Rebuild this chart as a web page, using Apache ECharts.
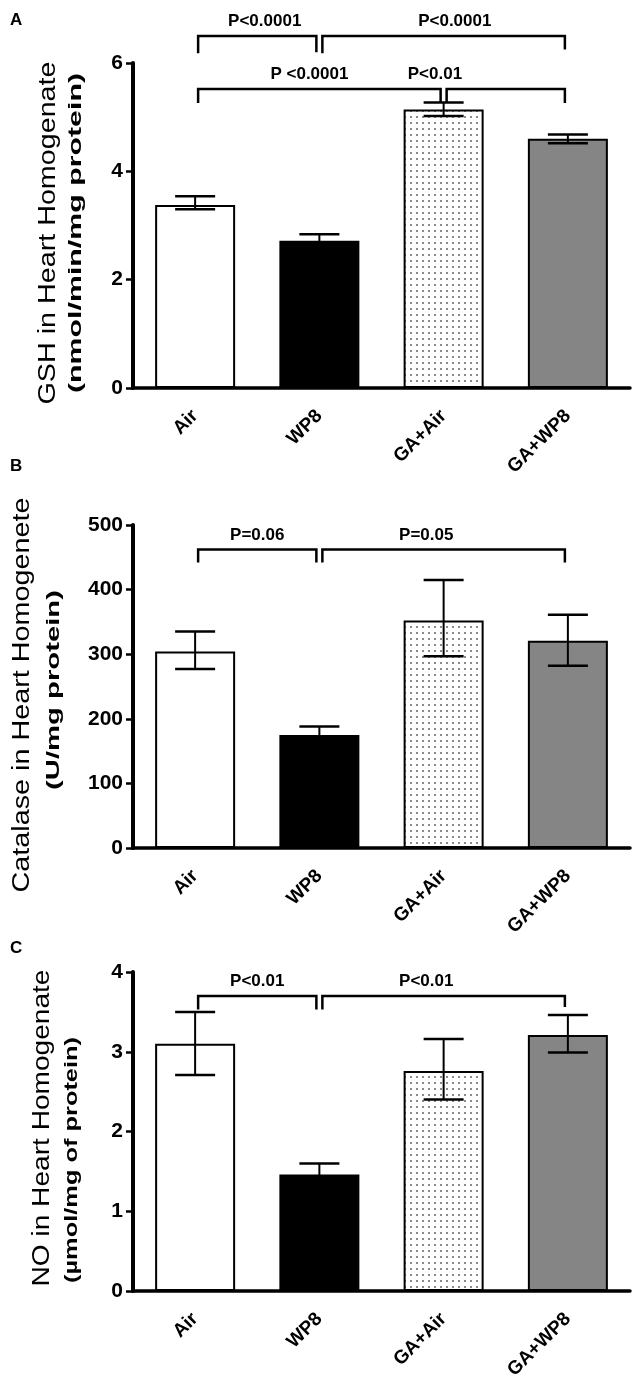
<!DOCTYPE html>
<html><head><meta charset="utf-8">
<script src="https://cdn.jsdelivr.net/npm/echarts@6/dist/echarts.min.js"></script>
<style>html,body{margin:0;padding:0;background:#fff}#c{width:633px;height:1390px}</style>
</head><body><div id="c"></div>
<script>
const categories = ['Air', 'WP8', 'GA+Air', 'GA+WP8'];

const gshMean = [3.38, 2.72, 5.14, 4.60];
const gshLow  = [3.30, 2.60, 5.02, 4.52];
const gshHigh = [3.54, 2.84, 5.27, 4.68];
const gshTicks = [0, 2, 4, 6];

const catMean = [304, 175, 352, 321];
const catLow  = [277, 162, 297, 282];
const catHigh = [335, 188, 415, 361];
const catTicks = [0, 100, 200, 300, 400, 500];

const noMean = [3.10, 1.46, 2.76, 3.21];
const noLow  = [2.71, 1.32, 2.40, 2.99];
const noHigh = [3.50, 1.60, 3.16, 3.46];
const noTicks = [0, 1, 2, 3, 4];

// brackets: [fromCategory, toCategory, barHeight, leftLegEnd, rightLegEnd]
const gshBrackets = [[0, 1, 6.5, 6.18, 6.2], [1, 3, 6.5, 6.18, 6.25], [0, 2, 5.52, 5.26, 5.28], [2, 3, 5.52, 5.28, 5.26]];
const gshP = ['P<0.0001', 'P<0.0001', 'P <0.0001', 'P<0.01'];
const gshPAt = [0.56, 2.09, 0.92, 1.93];

const catBrackets = [[0, 1, 462, 442, 442], [1, 3, 462, 442, 442]];
const catP = ['P=0.06', 'P=0.05'];
const catPAt = [0.5, 1.86];

const noBrackets = [[0, 1, 3.70, 3.53, 3.53], [1, 3, 3.70, 3.53, 3.56]];
const noP = ['P<0.01', 'P<0.01'];
const noPAt = [0.5, 1.86];

const FONT = '"Liberation Sans", Arial, sans-serif';

// dotted fill pattern
const pc = document.createElement('canvas');
pc.width = 6; pc.height = 6;
const pctx = pc.getContext('2d');
pctx.fillStyle = '#ffffff'; pctx.fillRect(0, 0, 6, 6);
pctx.fillStyle = '#8a8a8a'; pctx.fillRect(2, 2, 2, 2);
const dotted = { image: pc, repeat: 'repeat' };
const barColors = ['#ffffff', '#000000', dotted, '#858585'];

const grids = [
  { left: 133, right: 3, top: 63, height: 325 },
  { left: 133, right: 3, top: 525, height: 323 },
  { left: 133, right: 3, top: 972, height: 319 }
];

function xAxisFor(i) {
  return {
    type: 'category', gridIndex: i, data: categories,
    axisLine: { lineStyle: { color: '#000', width: 3.5 } },
    axisTick: { show: false },
    axisLabel: { rotate: 45, margin: 25, color: '#000', fontWeight: 'bold', fontSize: 19, fontFamily: FONT }
  };
}
function yAxisFor(i, ticks) {
  return {
    type: 'value', gridIndex: i, min: ticks[0], max: ticks[ticks.length - 1],
    interval: ticks[1] - ticks[0],
    axisLine: { show: true, lineStyle: { color: '#000', width: 4 } },
    axisTick: { show: true, length: 7, lineStyle: { color: '#000', width: 2.5 } },
    splitLine: { show: false },
    axisLabel: { color: '#000', fontWeight: 'bold', fontSize: 21, fontFamily: FONT, margin: 10 }
  };
}

function renderErr(params, api) {
  const x = api.value(0);
  const lo = api.coord([x, api.value(1)]);
  const hi = api.coord([x, api.value(2)]);
  const half = 20;
  const st = { stroke: '#000', lineWidth: 2 };
  return {
    type: 'group', children: [
      { type: 'line', shape: { x1: lo[0], y1: lo[1], x2: hi[0], y2: hi[1] }, style: st },
      { type: 'line', shape: { x1: hi[0] - half, y1: hi[1], x2: hi[0] + half, y2: hi[1] }, style: { stroke: '#000', lineWidth: 2.5 } },
      { type: 'line', shape: { x1: lo[0] - half, y1: lo[1], x2: lo[0] + half, y2: lo[1] }, style: { stroke: '#000', lineWidth: 2.5 } }
    ]
  };
}

function makeBracketRender(labels, at) {
  return function (params, api) {
    const idx = params.dataIndex;
    const f = api.value(0), t = api.value(1), top = api.value(2), l1 = api.value(3), l2 = api.value(4);
    const p0 = api.coord([0, top]);
    const p1 = api.coord([1, top]);
    const band = p1[0] - p0[0];
    const xf = api.coord([f, top])[0] + 3;
    const xt = api.coord([t, top])[0] - 3;
    const yTop = p0[1];
    const y1 = api.coord([f, l1])[1];
    const y2 = api.coord([t, l2])[1];
    const lx = p0[0] + at[idx] * band;
    return {
      type: 'group', children: [
        { type: 'polyline', shape: { points: [[xf, y1], [xf, yTop], [xt, yTop], [xt, y2]] },
          style: { stroke: '#000', lineWidth: 2.5, fill: 'none' } },
        { type: 'text', style: { text: labels[idx], x: lx, y: yTop - 6, align: 'center', verticalAlign: 'bottom',
          fontSize: 17, fontWeight: 'bold', fontFamily: FONT, fill: '#000' } }
      ]
    };
  };
}

function panelSeries(i, mean, low, high, brackets, pLabels, pAt) {
  return [
    {
      type: 'bar', xAxisIndex: i, yAxisIndex: i, barWidth: 80,
      data: mean.map((v, k) => ({ value: v, itemStyle: { color: barColors[k] } })),
      itemStyle: { borderColor: '#000', borderWidth: 2 }, z: 2
    },
    {
      type: 'custom', xAxisIndex: i, yAxisIndex: i, renderItem: renderErr, z: 3,
      data: mean.map((v, k) => [k, low[k], high[k]])
    },
    {
      type: 'custom', xAxisIndex: i, yAxisIndex: i, renderItem: makeBracketRender(pLabels, pAt), z: 4, clip: false,
      data: brackets
    }
  ];
}

const mctx = document.createElement('canvas').getContext('2d');
function titleEl(text, weight, size, cx, cy, len) {
  const font = weight + ' ' + size + 'px ' + FONT;
  mctx.font = font;
  const w = mctx.measureText(text).width;
  return {
    type: 'text', x: cx, y: cy, rotation: Math.PI / 2, scaleX: len / w, z: 10,
    style: { text: text, fontSize: size, fontWeight: weight, fontFamily: FONT, fill: '#000', align: 'center', verticalAlign: 'middle' }
  };
}
function letterEl(text, x, y) {
  return { type: 'text', x: x, y: y, z: 10,
    style: { text: text, fontSize: 17, fontWeight: 'bold', fontFamily: FONT, fill: '#000', align: 'left', verticalAlign: 'middle' } };
}

const chart = echarts.init(document.getElementById('c'), null, { renderer: 'canvas' });
chart.setOption({
  animation: false,
  backgroundColor: '#fff',
  grid: grids,
  xAxis: [xAxisFor(0), xAxisFor(1), xAxisFor(2)],
  yAxis: [yAxisFor(0, gshTicks), yAxisFor(1, catTicks), yAxisFor(2, noTicks)],
  series: [].concat(
    panelSeries(0, gshMean, gshLow, gshHigh, gshBrackets, gshP, gshPAt),
    panelSeries(1, catMean, catLow, catHigh, catBrackets, catP, catPAt),
    panelSeries(2, noMean, noLow, noHigh, noBrackets, noP, noPAt)
  ),
  graphic: [
    letterEl('A', 10, 20), letterEl('B', 10, 466), letterEl('C', 10, 948),
    titleEl('GSH in Heart Homogenate', 'normal', 23, 49, 233, 343),
    titleEl('(nmol/min/mg protein)', 'bold', 19, 76, 233, 320),
    titleEl('Catalase in Heart Homogenete', 'normal', 23, 23, 695, 395),
    titleEl('(U/mg protein)', 'bold', 19, 54, 690, 200),
    titleEl('NO in Heart Homogenate', 'normal', 23, 43, 1128, 317),
    titleEl('(µmol/mg of protein)', 'bold', 19, 72, 1160, 246)
  ]
});
</script></body></html>
